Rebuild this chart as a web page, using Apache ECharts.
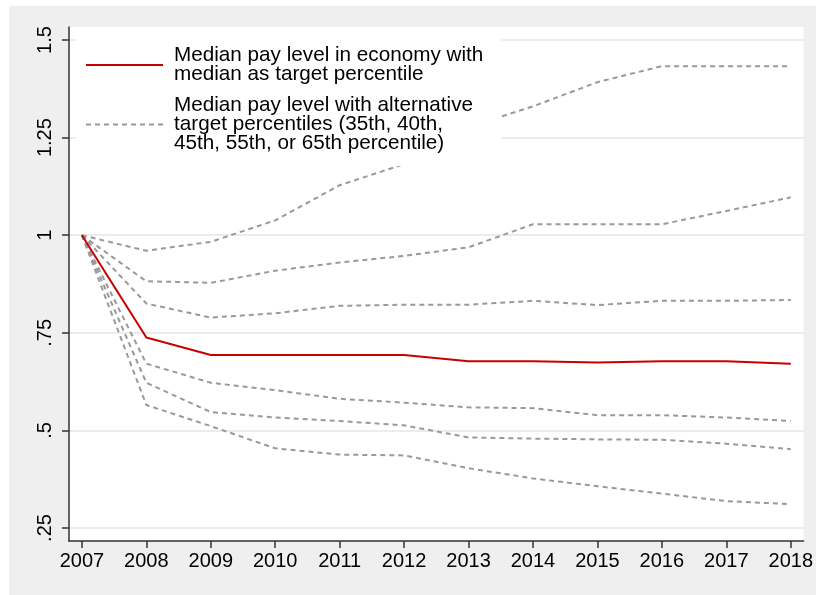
<!DOCTYPE html>
<html><head><meta charset="utf-8">
<script src="https://cdn.jsdelivr.net/npm/echarts@6/dist/echarts.min.js"></script>
<style>html,body{margin:0;padding:0;background:#fff;} #c{position:absolute;left:9px;top:6px;width:807px;height:589px;}</style>
</head><body><div id="c"></div><script>
var years = [2007, 2008, 2009, 2010, 2011, 2012, 2013, 2014, 2015, 2016, 2017, 2018];
var median = [1.0, 0.738, 0.693, 0.693, 0.693, 0.693, 0.677, 0.677, 0.674, 0.677, 0.677, 0.671];
var alt1 = [1.0, 0.960, 0.983, 1.038, 1.128, 1.182, 1.277, 1.330, 1.392, 1.433, 1.433, 1.433];
var alt2 = [1.0, 0.882, 0.878, 0.909, 0.930, 0.947, 0.969, 1.028, 1.028, 1.028, 1.062, 1.097];
var alt3 = [1.0, 0.825, 0.789, 0.800, 0.819, 0.822, 0.822, 0.832, 0.821, 0.832, 0.832, 0.834];
var alt4 = [1.0, 0.671, 0.622, 0.603, 0.581, 0.571, 0.559, 0.557, 0.539, 0.539, 0.533, 0.524];
var alt5 = [1.0, 0.622, 0.547, 0.533, 0.524, 0.513, 0.482, 0.479, 0.477, 0.476, 0.466, 0.452];
var alt6 = [1.0, 0.565, 0.511, 0.454, 0.438, 0.436, 0.403, 0.377, 0.357, 0.338, 0.319, 0.311];
var yTickValues = [0.25, 0.5, 0.75, 1, 1.25, 1.5];
var yTickLabels = ['.25', '.5', '.75', '1', '1.25', '1.5'];
var nameMedian = 'Median pay level in economy with\nmedian as target percentile';
var nameAlt = 'Median pay level with alternative\ntarget percentiles (35th, 40th,\n45th, 55th, or 65th percentile)';

function pairs(v) { return years.map(function (y, i) { return [y, v[i]]; }); }
var FONT = '"Liberation Sans", Arial, Helvetica, sans-serif';
var chart = echarts.init(document.getElementById('c'));
var altSeries = [alt1, alt2, alt3, alt4, alt5, alt6].map(function (v) {
  return {
    type: 'line', name: nameAlt, data: pairs(v), symbol: 'none', showSymbol: false,
    lineStyle: { color: '#999999', width: 2, type: [5, 4] }, itemStyle: { color: '#999999' }, z: 2
  };
});
var series = altSeries.concat([{
  type: 'line', name: nameMedian, data: pairs(median), symbol: 'none', showSymbol: false,
  lineStyle: { color: '#c80000', width: 2 }, itemStyle: { color: '#c80000' }, z: 3
}]);
chart.setOption({
  animation: false,
  backgroundColor: '#efefef',
  grid: { left: 60, right: 9, top: 21, bottom: 54, show: true, backgroundColor: '#ffffff', borderWidth: 0 },
  legend: {
    orient: 'vertical', left: 67, top: 23,
    padding: [16, 18, 12, 9],
    itemWidth: 77, itemHeight: 14, itemGap: 10,
    backgroundColor: '#ffffff',
    itemStyle: { opacity: 0 },
    data: [nameMedian, nameAlt],
    textStyle: { fontFamily: FONT, fontSize: 20.7, color: '#000', lineHeight: 19, padding: [0, 0, 0, 6] },
    selectedMode: false
  },
  xAxis: {
    type: 'value', min: 2006.8, max: 2018.2,
    axisLine: { show: true, lineStyle: { color: '#333', width: 1.5 } },
    axisTick: { show: true, length: 7, customValues: years, lineStyle: { color: '#333', width: 1.5 } },
    axisLabel: { customValues: years, margin: 10, fontFamily: FONT, fontSize: 20, color: '#000', formatter: function (v) { return String(Math.round(v)); } },
    splitLine: { show: false }
  },
  yAxis: {
    type: 'value', min: 0.2167, max: 1.5333,
    axisLine: { show: true, lineStyle: { color: '#333', width: 1.5 } },
    axisTick: { show: true, length: 7, customValues: yTickValues, lineStyle: { color: '#333', width: 1.5 } },
    axisLabel: {
      customValues: yTickValues, rotate: 90, margin: 14, fontFamily: FONT, fontSize: 20, color: '#000',
      formatter: function (v) { var i = yTickValues.indexOf(Math.round(v * 100) / 100); return i >= 0 ? yTickLabels[i] : ''; }
    },
    splitLine: { show: true, lineStyle: { color: '#e6e6e6', width: 1.5 } }
  },
  series: series
});
</script></body></html>
